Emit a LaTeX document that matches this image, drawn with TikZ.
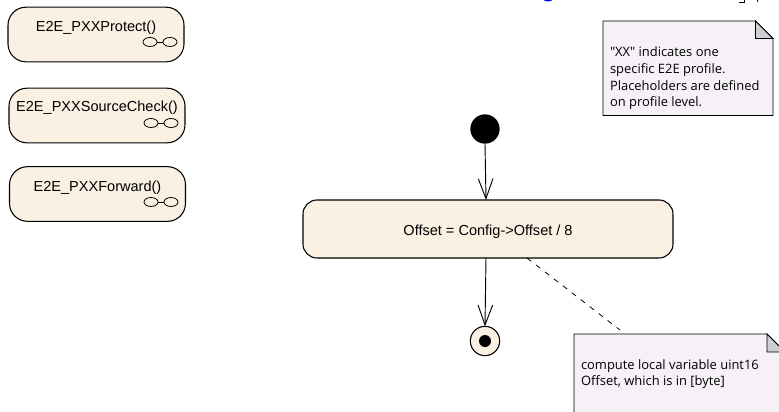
\documentclass[tikz,border=0pt]{standalone}
\usepackage{fontspec}
\setmainfont{Liberation Sans}
\newfontfamily\notefont{Open Sans}
\usetikzlibrary{arrows.meta}
\definecolor{statefill}{HTML}{FBF1E3}
\definecolor{notefill}{HTML}{F5F1F6}
\definecolor{foldfill}{HTML}{CFCFD3}
\tikzset{
  x=0.75pt,y=-0.75pt,
  every node/.style={inner sep=0pt,outer sep=0pt},
  statebox/.style={draw=black,fill=statefill,line width=0.8pt,rounded corners=13.5pt,minimum width=132pt,minimum height=41pt},
  mainbox/.style={draw=black,fill=statefill,line width=0.8pt,rounded corners=10.5pt,minimum width=277.5pt,minimum height=43.5pt},
  statetext/.style={font=\fontsize{10.9}{13}\selectfont},
  notetext/.style={font=\notefont\fontsize{9.7}{12.5}\selectfont,align=left,anchor=north west},
  notepath/.style={draw=black,fill=notefill,line width=0.7pt},
  foldpath/.style={draw=black,fill=foldfill,line width=0.7pt},
  flow/.style={draw=black,line width=0.7pt,-{Straight Barb[length=15pt,width=11pt]}},
  glass/.style={draw=black,line width=0.6pt},
  startdot/.style={circle,fill=black,minimum size=22pt},
  enddot/.style={circle,draw=black,fill=statefill,line width=0.8pt,minimum size=22pt},
  enddotin/.style={circle,fill=black,minimum size=9pt},
}
\newcommand{\glasses}[2]{%
  \draw[glass] (#1,#2) ellipse [x radius=7,y radius=4.5];
  \draw[glass] (#1+20,#2) ellipse [x radius=7,y radius=4.5];
  \draw[glass] (#1+7,#2) -- (#1+13,#2);
}
\begin{document}
\begin{tikzpicture}
\useasboundingbox (0,0) rectangle (779,411);
\clip (0,0) rectangle (779,411);
% state boxes
\node[statebox] (protect) at (96,34.5) {};
\node[statetext] (protectt) at (96,28) {E2E\_PXXProtect()};
\glasses{150}{42}
\node[statebox] (check) at (97,115.5) {};
\node[statetext] (checkt) at (97,108) {E2E\_PXXSourceCheck()};
\glasses{151}{123}
\node[statebox] (forward) at (97.5,194) {};
\node[statetext] (forwardt) at (97.5,188) {E2E\_PXXForward()};
\glasses{151}{202}
% main flow
\node[mainbox] (main) at (488,229) {};
\node[statetext] (maint) at (488,232) {Offset = Config->Offset / 8};
\node[startdot] (start) at (485,129) {};
\node[enddot] (end) at (485,341) {};
\node[enddotin] (endin) at (end.center) {};
\coordinate (intop) at (486,200);
\coordinate (outbot) at (486,258);
\coordinate (dashs) at (527,258);
\coordinate (dashe) at (620,330);
\draw[flow] (start.south) -- (intop);
\draw[flow] (outbot) -- (end.north);
\draw[draw=black,line width=0.6pt,dash pattern=on 4pt off 4.5pt] (dashs) -- (dashe);
% note 1
\path[notepath] (603,21) -- (755.5,21) -- (773,38.5) -- (773,115.5) -- (603,115.5) -- cycle;
\path[foldpath] (755.5,21) -- (773,38.5) -- (755.5,38.5) -- cycle;
\node[notetext] (note1) at (610,47) {"XX" indicates one\\specific E2E profile.\\Placeholders are defined\\on profile level.};
% note 2
\path[notepath] (574,334) -- (767,334) -- (785,352) -- (785,420) -- (574,420) -- cycle;
\path[foldpath] (767,334) -- (785,352) -- (767,352) -- cycle;
\node[notetext] (note2) at (581,359.5) {compute local variable uint16\\Offset, which is in [byte]};
% clipped remains at the top edge
\fill[blue] (548,-1.5) ellipse [x radius=5,y radius=3];
\draw[black,line width=0.6pt] (739,2) -- (744,2) -- (744,-1);
\draw[black,line width=0.6pt] (757,-1) -- (758,2);
\end{tikzpicture}
\end{document}
